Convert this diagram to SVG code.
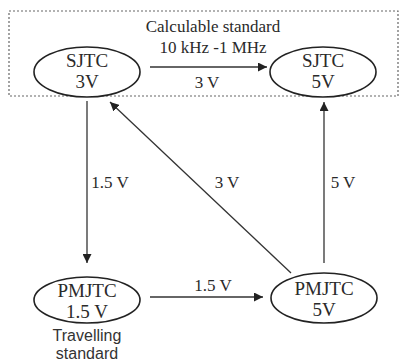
<svg xmlns="http://www.w3.org/2000/svg" width="400" height="363" viewBox="0 0 400 363">
<style>
.serif{font-family:"Liberation Serif","Times New Roman",serif;fill:#2a2a2a;text-anchor:middle}
.node{font-size:19px}
.lbl{font-size:17px}
.sans{font-family:"Liberation Sans",Arial,sans-serif;fill:#333;font-size:16px;text-anchor:middle}
ellipse{fill:#fff;stroke:#222;stroke-width:1.6}
.c{stroke:#333;stroke-width:1.3;fill:none}
</style>
<defs>
<marker id="ah" viewBox="0 0 10 10" refX="10" refY="5" markerWidth="9" markerHeight="9" markerUnits="userSpaceOnUse" orient="auto">
<path d="M0,0 L10,5 L0,10 z" fill="#222"/>
</marker>
</defs>
<rect id="box" x="9" y="11" width="389" height="85" fill="none" stroke="#666" stroke-width="1.2" stroke-dasharray="2,2"/>
<text class="serif lbl" x="213" y="32">Calculable standard</text>
<text class="serif lbl" x="213" y="53">10 kHz -1 MHz</text>
<g id="connectors">
<line class="c" x1="150" y1="67" x2="267" y2="67" marker-end="url(#ah)"/>
<line class="c" x1="87" y1="101" x2="87" y2="263" marker-end="url(#ah)"/>
<line class="c" x1="291" y1="273" x2="110" y2="102" marker-end="url(#ah)"/>
<line class="c" x1="324" y1="263" x2="324" y2="102" marker-end="url(#ah)"/>
<line class="c" x1="150" y1="297" x2="263" y2="297" marker-end="url(#ah)"/>
<text class="serif lbl" x="207" y="88">3 V</text>
<text class="serif lbl" x="110" y="188">1.5 V</text>
<text class="serif lbl" x="227" y="188">3 V</text>
<text class="serif lbl" x="343" y="188">5 V</text>
<text class="serif lbl" x="213" y="291">1.5 V</text>
</g>
<g id="sjtc3">
<ellipse cx="87" cy="72" rx="53" ry="25"/>
<text class="serif node" x="87" y="67">SJTC</text>
<text class="serif node" x="87" y="88">3V</text>
</g>
<g id="sjtc5">
<ellipse cx="323" cy="72" rx="53" ry="25"/>
<text class="serif node" x="323" y="67">SJTC</text>
<text class="serif node" x="323" y="88">5V</text>
</g>
<g id="pmjtc15">
<ellipse cx="87" cy="300" rx="53" ry="23"/>
<text class="serif node" x="87" y="297">PMJTC</text>
<text class="serif node" x="87" y="318">1.5 V</text>
<text class="sans" x="87" y="341">Travelling</text>
<text class="sans" x="87" y="359">standard</text>
</g>
<g id="pmjtc5">
<ellipse cx="324" cy="298" rx="53" ry="25"/>
<text class="serif node" x="324" y="295">PMJTC</text>
<text class="serif node" x="324" y="316">5V</text>
</g>
</svg>
